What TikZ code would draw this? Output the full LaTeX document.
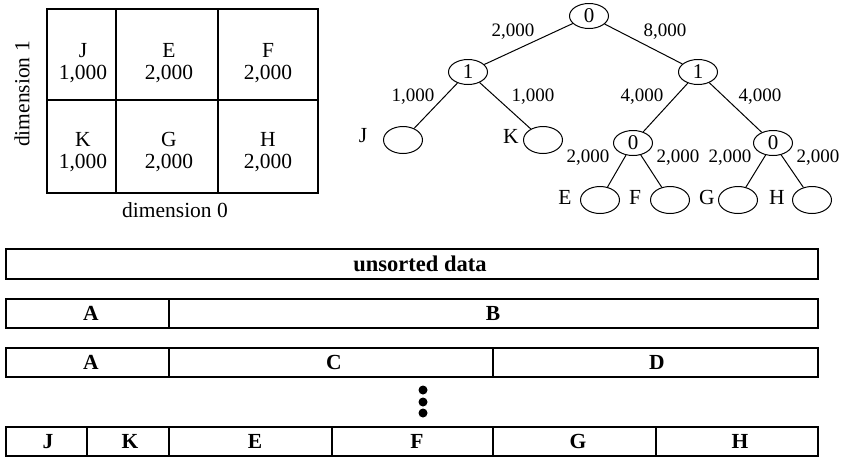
\documentclass[tikz,border=0pt]{standalone}
\usepackage{fontspec}
\setmainfont{Liberation Serif}
\usetikzlibrary{shapes.geometric}

\tikzset{
  treenode/.style={draw, ellipse, line width=1pt, minimum width=39pt, minimum height=25pt, inner sep=0pt, font=\fontsize{21}{21}\selectfont},
  weight/.style={inner sep=0pt, font=\fontsize{19}{19}\selectfont},
  leafname/.style={inner sep=0pt, font=\fontsize{21.5}{21.5}\selectfont},
  celltext/.style={align=center, inner sep=0pt, font=\fontsize{21.5}{22}\selectfont},
  bartext/.style={inner sep=0pt, font=\bfseries\fontsize{21.5}{21.5}\selectfont},
}

\begin{document}
\begin{tikzpicture}[x=1pt, y=-1pt]
    \useasboundingbox (0,0) rectangle (843,459);

    % Grid
    \draw[line width=2pt] (47,9) rectangle (318,193);
    \draw[line width=2pt] (47,100) -- (318,100);
    \draw[line width=2pt] (116,9) -- (116,193);
    \draw[line width=2pt] (218,9) -- (218,193);
    \node[celltext] (cJ) at (83,63) {J\\1,000};
    \node[celltext] (cE) at (169,63) {E\\2,000};
    \node[celltext] (cF) at (268,63) {F\\2,000};
    \node[celltext] (cK) at (83,152) {K\\1,000};
    \node[celltext] (cG) at (169,152) {G\\2,000};
    \node[celltext] (cH) at (268,152) {H\\2,000};
    \node[celltext, rotate=90] (dim1) at (22,94) {dimension 1};
    \node[celltext] (dim0) at (175,210) {dimension 0};

    % Tree
    \node[treenode] (n0) at (589,16) {0};
    \node[treenode] (n1l) at (468,72) {1};
    \node[treenode] (n1r) at (698,72) {1};
    \node[treenode, minimum height=27pt] (lJ) at (403,140) {};
    \node[treenode, minimum height=27pt] (lK) at (543,140) {};
    \node[treenode] (n2l) at (633,143) {0};
    \node[treenode] (n2r) at (773,143) {0};
    \node[treenode, minimum height=27pt] (lE) at (600,200) {};
    \node[treenode, minimum height=27pt] (lF) at (670,200) {};
    \node[treenode, minimum height=27pt] (lG) at (738,200) {};
    \node[treenode, minimum height=27pt] (lH) at (812,200) {};

    \draw[line width=1pt] (n0) -- (n1l);
    \draw[line width=1pt] (n0) -- (n1r);
    \draw[line width=1pt] (n1l) -- (lJ);
    \draw[line width=1pt] (n1l) -- (lK);
    \draw[line width=1pt] (n1r) -- (n2l);
    \draw[line width=1pt] (n1r) -- (n2r);
    \draw[line width=1pt] (n2l) -- (lE);
    \draw[line width=1pt] (n2l) -- (lF);
    \draw[line width=1pt] (n2r) -- (lG);
    \draw[line width=1pt] (n2r) -- (lH);

    % Weights
    \node[weight] (w0l) at (513,32) {2,000};
    \node[weight] (w0r) at (665,32) {8,000};
    \node[weight] (w1a) at (413,97) {1,000};
    \node[weight] (w1b) at (533,97) {1,000};
    \node[weight] (w1c) at (642,97) {4,000};
    \node[weight] (w1d) at (760,97) {4,000};
    \node[weight] (w2a) at (588,158) {2,000};
    \node[weight] (w2b) at (678,158) {2,000};
    \node[weight] (w2c) at (730,158) {2,000};
    \node[weight] (w2d) at (818,158) {2,000};

    % Leaf names
    \node[leafname] (tJ) at (363,136) {J};
    \node[leafname] (tK) at (511,136) {K};
    \node[leafname] (tE) at (565,197) {E};
    \node[leafname] (tF) at (635,197) {F};
    \node[leafname] (tG) at (707,197) {G};
    \node[leafname] (tH) at (777,197) {H};

    % Bars
    \draw[line width=2pt] (6,249) rectangle (818,279);
    \node[bartext, font=\bfseries\fontsize{22.5}{22.5}\selectfont] (unsorted) at (420,264) {unsorted data};

    \draw[line width=2pt] (6,299) rectangle (818,328);
    \draw[line width=2pt] (169,299) -- (169,328);
    \node[bartext] (a1) at (91,313.5) {A};
    \node[bartext] (b1) at (493,313.5) {B};

    \draw[line width=2pt] (6,348) rectangle (818,377);
    \draw[line width=2pt] (169,348) -- (169,377);
    \draw[line width=2pt] (493,348) -- (493,377);
    \node[bartext] (a2) at (91,362.5) {A};
    \node[bartext] (c2) at (334,362.5) {C};
    \node[bartext] (d2) at (657,362.5) {D};

    % Dots
    \fill (423,390) circle (4.5);
    \fill (423,402) circle (4.5);
    \fill (423,413) circle (4.5);

    \draw[line width=2pt] (6,427) rectangle (818,456);
    \foreach \x in {87,169,332,493,656}
        \draw[line width=2pt] (\x,427) -- (\x,456);
    \node[bartext] (bJ) at (48,441.5) {J};
    \node[bartext] (bK) at (130,441.5) {K};
    \node[bartext] (bE) at (255,441.5) {E};
    \node[bartext] (bF) at (417,441.5) {F};
    \node[bartext] (bG) at (578,441.5) {G};
    \node[bartext] (bH) at (740,441.5) {H};
\end{tikzpicture}
\end{document}
